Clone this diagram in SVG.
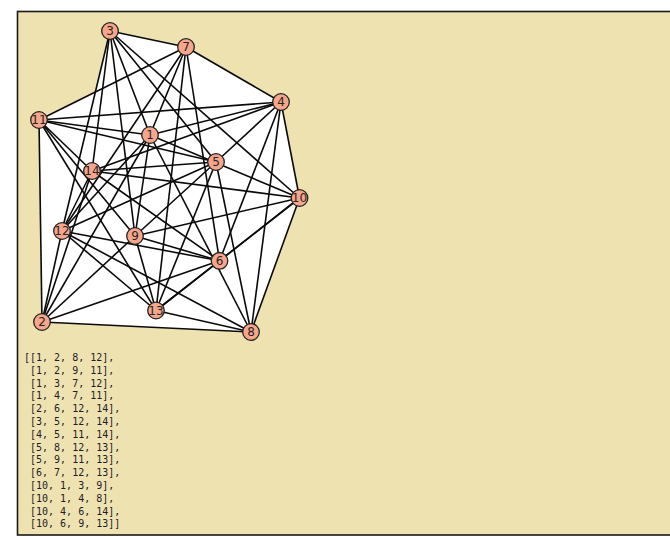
<svg xmlns="http://www.w3.org/2000/svg" width="670" height="540" viewBox="0 0 670 540">
<style>
.bg{fill:#efe2b1;stroke:#1a1a1a;stroke-width:1.6}
.blk{fill:#ffffff;stroke:none}
.e{stroke:#0a0a0a;stroke-width:1.6;fill:none}
.n circle{fill:#f7a58b;stroke:#222;stroke-width:1.3}
.n text{font-family:"DejaVu Sans",sans-serif;font-size:12px;fill:#262626;text-anchor:middle;dominant-baseline:central}
.out{font-family:"DejaVu Sans Mono",monospace;font-size:10px;fill:#1c1c2a}
</style>
<rect width="670" height="540" fill="#ffffff"/>
<rect class="bg" x="17.5" y="11.5" width="660" height="523.5"/>
<g id="blocks">
<polygon class="blk" points="150,135 251,332 42,322 62,231"/>
<polygon class="blk" points="39,120 150,135 135,236 42,322"/>
<polygon class="blk" points="110,31 186,47 150,135 62,231"/>
<polygon class="blk" points="186,47 281,102 150,135 39,120"/>
<polygon class="blk" points="92,171 219.5,260.8 42,322 62,231"/>
<polygon class="blk" points="110,31 216,162 62,231"/>
<polygon class="blk" points="39,120 281,102 216,162 92,171"/>
<polygon class="blk" points="216,162 251,332 156,310.5 62,231"/>
<polygon class="blk" points="39,120 216,162 156,310.5"/>
<polygon class="blk" points="186,47 219.5,260.8 156,310.5 62,231"/>
<polygon class="blk" points="110,31 299.5,198 135,236"/>
<polygon class="blk" points="150,135 281,102 299.5,198 251,332"/>
<polygon class="blk" points="92,171 281,102 299.5,198 219.5,260.8"/>
<polygon class="blk" points="135,236 299.5,198 219.5,260.8 156,310.5"/>
</g>
<g id="connectors" class="e">
<line x1="150" y1="135" x2="42" y2="322"/>
<line x1="150" y1="135" x2="110" y2="31"/>
<line x1="150" y1="135" x2="281" y2="102"/>
<line x1="150" y1="135" x2="186" y2="47"/>
<line x1="150" y1="135" x2="251" y2="332"/>
<line x1="150" y1="135" x2="135" y2="236"/>
<line x1="150" y1="135" x2="299.5" y2="198"/>
<line x1="150" y1="135" x2="39" y2="120"/>
<line x1="150" y1="135" x2="62" y2="231"/>
<line x1="42" y1="322" x2="219.5" y2="260.8"/>
<line x1="42" y1="322" x2="251" y2="332"/>
<line x1="42" y1="322" x2="135" y2="236"/>
<line x1="42" y1="322" x2="39" y2="120"/>
<line x1="42" y1="322" x2="62" y2="231"/>
<line x1="42" y1="322" x2="92" y2="171"/>
<line x1="110" y1="31" x2="216" y2="162"/>
<line x1="110" y1="31" x2="186" y2="47"/>
<line x1="110" y1="31" x2="135" y2="236"/>
<line x1="110" y1="31" x2="299.5" y2="198"/>
<line x1="110" y1="31" x2="62" y2="231"/>
<line x1="110" y1="31" x2="92" y2="171"/>
<line x1="281" y1="102" x2="216" y2="162"/>
<line x1="281" y1="102" x2="219.5" y2="260.8"/>
<line x1="281" y1="102" x2="186" y2="47"/>
<line x1="281" y1="102" x2="251" y2="332"/>
<line x1="281" y1="102" x2="299.5" y2="198"/>
<line x1="281" y1="102" x2="39" y2="120"/>
<line x1="281" y1="102" x2="92" y2="171"/>
<line x1="216" y1="162" x2="251" y2="332"/>
<line x1="216" y1="162" x2="135" y2="236"/>
<line x1="216" y1="162" x2="39" y2="120"/>
<line x1="216" y1="162" x2="62" y2="231"/>
<line x1="216" y1="162" x2="156" y2="310.5"/>
<line x1="216" y1="162" x2="92" y2="171"/>
<line x1="219.5" y1="260.8" x2="186" y2="47"/>
<line x1="219.5" y1="260.8" x2="135" y2="236"/>
<line x1="219.5" y1="260.8" x2="299.5" y2="198"/>
<line x1="219.5" y1="260.8" x2="62" y2="231"/>
<line x1="219.5" y1="260.8" x2="156" y2="310.5"/>
<line x1="219.5" y1="260.8" x2="92" y2="171"/>
<line x1="186" y1="47" x2="39" y2="120"/>
<line x1="186" y1="47" x2="62" y2="231"/>
<line x1="186" y1="47" x2="156" y2="310.5"/>
<line x1="251" y1="332" x2="299.5" y2="198"/>
<line x1="251" y1="332" x2="62" y2="231"/>
<line x1="251" y1="332" x2="156" y2="310.5"/>
<line x1="135" y1="236" x2="299.5" y2="198"/>
<line x1="135" y1="236" x2="39" y2="120"/>
<line x1="135" y1="236" x2="156" y2="310.5"/>
<line x1="299.5" y1="198" x2="156" y2="310.5"/>
<line x1="299.5" y1="198" x2="92" y2="171"/>
<line x1="39" y1="120" x2="156" y2="310.5"/>
<line x1="39" y1="120" x2="92" y2="171"/>
<line x1="62" y1="231" x2="156" y2="310.5"/>
<line x1="62" y1="231" x2="92" y2="171"/>
</g>
<g id="n1" class="n"><circle cx="150" cy="135" r="8.3"/><text x="150" y="135">1</text></g>
<g id="n2" class="n"><circle cx="42" cy="322" r="8.3"/><text x="42" y="322">2</text></g>
<g id="n3" class="n"><circle cx="110" cy="31" r="8.3"/><text x="110" y="31">3</text></g>
<g id="n4" class="n"><circle cx="281" cy="102" r="8.3"/><text x="281" y="102">4</text></g>
<g id="n5" class="n"><circle cx="216" cy="162" r="8.3"/><text x="216" y="162">5</text></g>
<g id="n6" class="n"><circle cx="219.5" cy="260.8" r="8.3"/><text x="219.5" y="260.8">6</text></g>
<g id="n7" class="n"><circle cx="186" cy="47" r="8.3"/><text x="186" y="47">7</text></g>
<g id="n8" class="n"><circle cx="251" cy="332" r="8.3"/><text x="251" y="332">8</text></g>
<g id="n9" class="n"><circle cx="135" cy="236" r="8.3"/><text x="135" y="236">9</text></g>
<g id="n10" class="n"><circle cx="299.5" cy="198" r="8.3"/><text x="299.5" y="198">10</text></g>
<g id="n11" class="n"><circle cx="39" cy="120" r="8.3"/><text x="39" y="120">11</text></g>
<g id="n12" class="n"><circle cx="62" cy="231" r="8.3"/><text x="62" y="231">12</text></g>
<g id="n13" class="n"><circle cx="156" cy="310.5" r="8.3"/><text x="156" y="310.5">13</text></g>
<g id="n14" class="n"><circle cx="92" cy="171" r="8.3"/><text x="92" y="171">14</text></g>
<g id="output" class="out">
<text x="24" y="361">[[1, 2, 8, 12],</text>
<text x="30" y="373.8">[1, 2, 9, 11],</text>
<text x="30" y="386.6">[1, 3, 7, 12],</text>
<text x="30" y="399.4">[1, 4, 7, 11],</text>
<text x="30" y="412.2">[2, 6, 12, 14],</text>
<text x="30" y="425">[3, 5, 12, 14],</text>
<text x="30" y="437.8">[4, 5, 11, 14],</text>
<text x="30" y="450.6">[5, 8, 12, 13],</text>
<text x="30" y="463.4">[5, 9, 11, 13],</text>
<text x="30" y="476.2">[6, 7, 12, 13],</text>
<text x="30" y="489">[10, 1, 3, 9],</text>
<text x="30" y="501.8">[10, 1, 4, 8],</text>
<text x="30" y="514.6">[10, 4, 6, 14],</text>
<text x="30" y="527.4">[10, 6, 9, 13]]</text>
</g>
</svg>
